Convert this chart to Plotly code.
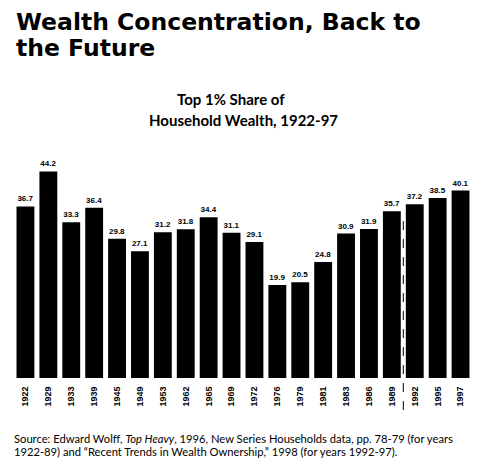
import plotly.graph_objects as go

years = ["1922", "1929", "1933", "1939", "1945", "1949", "1953", "1962", "1965", "1969",
         "1972", "1976", "1979", "1981", "1983", "1986", "1989", "1992", "1995", "1997"]
share = [36.7, 44.2, 33.3, 36.4, 29.8, 27.1, 31.2, 31.8, 34.4, 31.1,
         29.1, 19.9, 20.5, 24.8, 30.9, 31.9, 35.7, 37.2, 38.5, 40.1]

title_lines = ["Wealth Concentration, Back to", "the Future"]
subtitle_lines = ["Top 1% Share of", "Household Wealth, 1922-97"]
source_lines = [
    "Source: Edward Wolff, <i>Top Heavy</i>, 1996, New Series Households data, pp. 78-79 (for years",
    "1922-89) and \u201cRecent Trends in Wealth Ownership,\u201d 1998 (for years 1992-97).",
]

fig = go.Figure()

fig.add_trace(go.Bar(
    x=years,
    y=share,
    marker=dict(color="black", line=dict(width=0)),
    text=[f"{v:.1f}" for v in share],
    textposition="outside",
    textfont=dict(family="Liberation Sans", size=8, color="black", weight="bold"),
    cliponaxis=False,
    width=0.78,
))

# dashed break between the two data sources (1922-89 vs 1992-97)
fig.add_shape(type="line", xref="x", yref="paper",
              x0=16.5, x1=16.5, y0=-0.149, y1=0.767,
              line=dict(color="black", width=1, dash="dash"))

# title, two lines
for txt, yy in zip(title_lines, [1.655, 1.535]):
    fig.add_annotation(
        text=f"<b>{txt}</b>", xref="paper", yref="paper", x=0.0, y=yy,
        xanchor="left", yanchor="middle", showarrow=False,
        font=dict(family="DejaVu Sans", size=23.5, color="black"))

for txt, xx, yy in zip(subtitle_lines, [0.474, 0.502], [1.298, 1.200]):
    fig.add_annotation(
        text=f"<b>{txt}</b>", xref="paper", yref="paper", x=xx, y=yy,
        xanchor="center", yanchor="middle", showarrow=False,
        font=dict(family="Lato", size=15, color="black"))

for txt, yy in zip(source_lines, [-0.281, -0.342]):
    fig.add_annotation(
        text=txt, xref="paper", yref="paper", x=-0.004, y=yy,
        xanchor="left", yanchor="middle", showarrow=False,
        font=dict(family="Lato", size=11.2, color="black"))

# page has an 8px body margin, so the figure is drawn 8px smaller
fig.update_layout(
    width=474, height=465,
    margin=dict(l=5.5, r=9.5, t=155, b=95),
    paper_bgcolor="white", plot_bgcolor="white",
    showlegend=False,
    xaxis=dict(tickangle=-90, showline=False, showgrid=False, zeroline=False,
               ticks="outside", ticklen=4, tickcolor="rgba(0,0,0,0)",
               tickfont=dict(family="Liberation Sans", size=9, color="black", weight="bold")),
    yaxis=dict(range=[0, 46], visible=False),
)

fig.write_html("out.html")
